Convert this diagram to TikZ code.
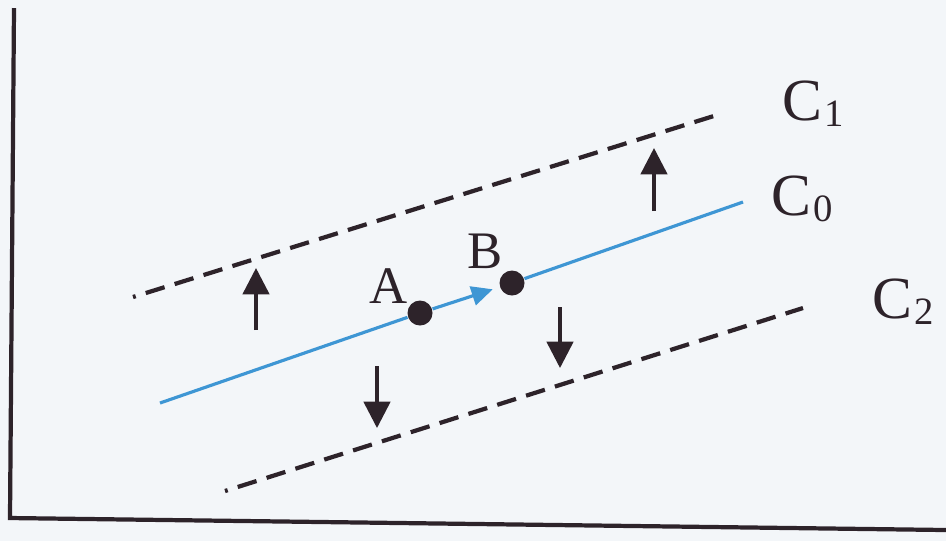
\documentclass[tikz,border=0pt]{standalone}
\usepackage{fontspec}
\setmainfont{Liberation Serif}
\usetikzlibrary{arrows.meta}
\definecolor{paper}{RGB}{243,246,249}
\definecolor{lineblue}{RGB}{62,150,212}
\definecolor{ink}{RGB}{45,35,42}
\newcommand{\clevel}[1]{C\kern0.6pt\raisebox{-1.8pt}{\fontsize{11}{13}\selectfont #1}}

\begin{document}
\begin{tikzpicture}[x=0.01cm, y=-0.01cm,
  dot/.style={circle, fill=ink, inner sep=0pt, minimum size=0.25cm},
  level/.style={ink, line width=1.2pt, dash pattern=on 5.6pt off 3pt, dash phase=4.8pt},
  flow/.style={lineblue, line width=0.9pt},
  push/.style={ink, line width=1pt, -{Triangle[length=7.5pt,width=7.5pt]}},
  clabel/.style={ink, inner sep=0pt, anchor=base west, font=\fontsize{17}{19}\selectfont},
  plabel/.style={ink, inner sep=0pt, font=\fontsize{15}{17}\selectfont}]
%\draw[help lines, step=100] (0,0) grid (946,541);
\fill[paper] (0,0) rectangle (946,541);
\useasboundingbox (0,0) rectangle (946,541);

% Frame
\draw[ink, line width=1.2pt] (14,8) -- (10,518) -- (946,530);

% Level lines
\coordinate (c1s) at (133,297);
\coordinate (c1e) at (717,115);
\coordinate (c0s) at (160,403);
\coordinate (c0e) at (743,202);
\coordinate (c2s) at (225,491);
\coordinate (c2e) at (803,308);

\draw[level] (c1s) -- (c1e);
\draw[level] (c2s) -- (c2e);

\node[dot] (A) at (420,313) {};
\node[dot] (B) at (512,283) {};

\draw[flow] (c0s) -- (A);
\draw[flow] (B) -- (c0e);
\draw[flow, shorten >=2pt, -{Triangle[length=6pt,width=5.5pt]}] (A) -- (B);

\node[plabel] (labA) at (389,286) {A};
\node[plabel] (labB) at (485,251) {B};

\node[clabel] (lab1) at (782,120) {\clevel{1}};
\node[clabel] (lab0) at (771,215) {\clevel{0}};
\node[clabel] (lab2) at (872,318) {\clevel{2}};

% Shifts
\coordinate (u1s) at (256,330);
\coordinate (u1e) at (256,268);
\coordinate (u2s) at (654,211);
\coordinate (u2e) at (654,148);
\coordinate (d1s) at (377,366);
\coordinate (d1e) at (377,428);
\coordinate (d2s) at (560,307);
\coordinate (d2e) at (560,368);

\draw[push] (u1s) -- (u1e);
\draw[push] (u2s) -- (u2e);
\draw[push] (d1s) -- (d1e);
\draw[push] (d2s) -- (d2e);

\end{tikzpicture}
\end{document}
